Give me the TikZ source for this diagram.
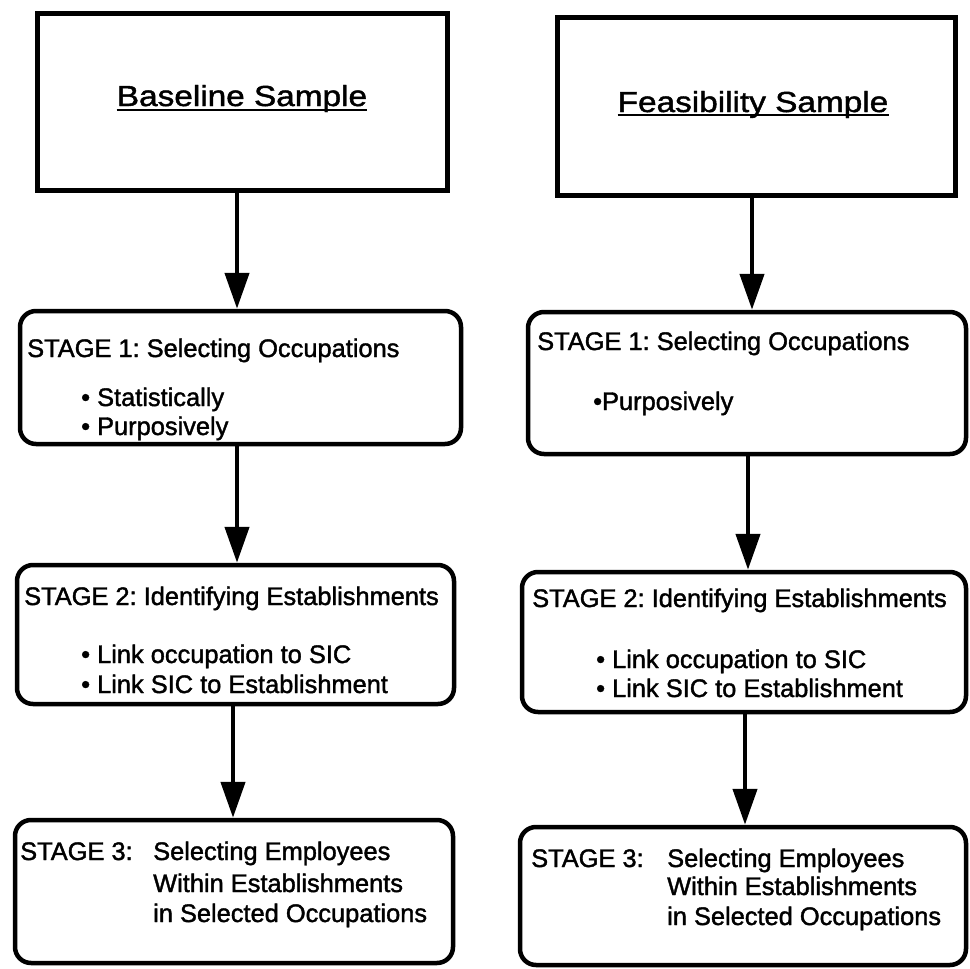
\documentclass[tikz,border=0pt]{standalone}
\usepackage{fontspec}
\usetikzlibrary{arrows.meta,calc}
\newfontfamily\titlefont[FakeStretch=1.15,FakeBold=1.5]{Liberation Sans}
\newfontfamily\bodyfont[FakeStretch=1.0,FakeBold=1.5]{Liberation Sans}
\frenchspacing
\begin{document}
\begin{tikzpicture}[x=1pt,y=-1pt,
  titlebox/.style={draw,line width=5pt,inner sep=0pt},
  stagebox/.style={draw,line width=4.5pt,rounded corners=16pt,inner sep=0pt},
  titletext/.style={anchor=base,inner sep=0pt,font=\titlefont\fontsize{29}{34}\selectfont},
  stagetext/.style={anchor=base west,inner sep=0pt,font=\bodyfont\fontsize{25.4}{30}\selectfont},
  uline/.style={line width=2pt},
  flow/.style={line width=4.5pt,-{Triangle[length=36pt,width=24pt]}}]

\useasboundingbox[fill=white] (0,0) rectangle (970,969);

% ---- boxes ----
\node[titlebox,minimum width=410pt,minimum height=177pt] (bt) at (242,101.5) {};
\node[titlebox,minimum width=398pt,minimum height=178pt] (ft) at (756,106) {};

\node[stagebox,minimum width=441pt,minimum height=133pt] (b1) at (240.5,377.5) {};
\node[stagebox,minimum width=438pt,minimum height=142pt] (f1) at (747,383) {};

\node[stagebox,minimum width=437pt,minimum height=139pt] (b2) at (235.5,634.5) {};
\node[stagebox,minimum width=444pt,minimum height=140pt] (f2) at (744,642) {};

\node[stagebox,minimum width=438pt,minimum height=143pt] (b3) at (234,891.5) {};
\node[stagebox,minimum width=446pt,minimum height=138pt] (f3) at (743,896) {};

% ---- titles ----
\node[titletext] (btt) at (242,106) {Baseline Sample};
\draw[uline] ($(btt.base west)+(0,4)$) -- ($(btt.base east)+(0,4)$);
\node[titletext] (ftt) at (753,112) {Feasibility Sample};
\draw[uline] ($(ftt.base west)+(0,3)$) -- ($(ftt.base east)+(0,3)$);

% ---- stage 1 ----
\node[stagetext] (b1h) at (27,357) {STAGE 1: Selecting Occupations};
\node[stagetext] (b1a) at (81,406) {•~Statistically};
\node[stagetext] (b1b) at (81,435) {•~Purposively};

\node[stagetext] (f1h) at (537,350) {STAGE 1: Selecting Occupations};
\node[stagetext] (f1a) at (593,410) {•Purposively};

% ---- stage 2 ----
\node[stagetext] (b2h) at (24,605) {STAGE 2: Identifying Establishments};
\node[stagetext] (b2a) at (81,663) {•~Link occupation to SIC};
\node[stagetext] (b2b) at (81,693) {•~Link SIC to Establishment};

\node[stagetext] (f2h) at (532,607) {STAGE 2: Identifying Establishments};
\node[stagetext] (f2a) at (596,668) {•~Link occupation to SIC};
\node[stagetext] (f2b) at (596,697) {•~Link SIC to Establishment};

% ---- stage 3 ----
\node[stagetext] (b3h) at (20,860) {STAGE 3:};
\node[stagetext] (b3a) at (153,860) {Selecting Employees};
\node[stagetext] (b3b) at (153,892) {Within Establishments};
\node[stagetext] (b3c) at (153,922) {in Selected Occupations};

\node[stagetext] (f3h) at (531,867) {STAGE 3:};
\node[stagetext] (f3a) at (667,867) {Selecting Employees};
\node[stagetext] (f3b) at (667,895) {Within Establishments};
\node[stagetext] (f3c) at (667,925) {in Selected Occupations};

% ---- connectors ----
\coordinate (xl1) at (237,0);
\coordinate (xl2) at (237,0);
\coordinate (xl3) at (233,0);
\coordinate (xr1) at (752,0);
\coordinate (xr2) at (748,0);
\coordinate (xr3) at (745,0);

\draw[flow] (bt.south -| xl1) -- (b1.north -| xl1);
\draw[flow] (b1.south -| xl2) -- (b2.north -| xl2);
\draw[flow] (b2.south -| xl3) -- (b3.north -| xl3);

\draw[flow] (ft.south -| xr1) -- (f1.north -| xr1);
\draw[flow] (f1.south -| xr2) -- (f2.north -| xr2);
\draw[flow] (f2.south -| xr3) -- (f3.north -| xr3);
\end{tikzpicture}
\end{document}
